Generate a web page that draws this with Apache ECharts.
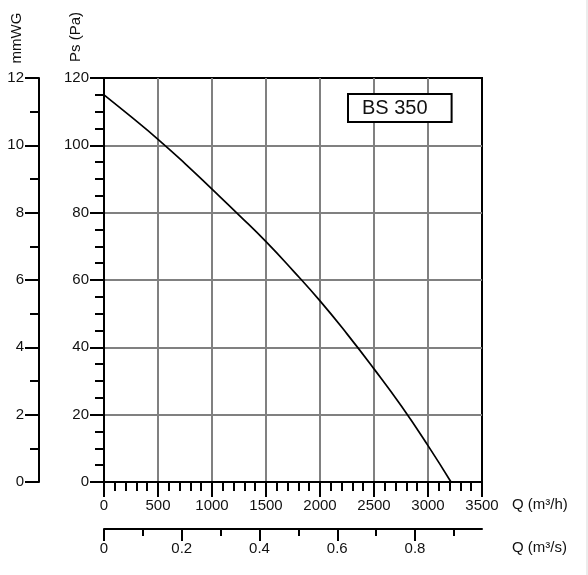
<!DOCTYPE html>
<html>
<head>
<meta charset="utf-8">
<script src="https://cdn.jsdelivr.net/npm/echarts@6/dist/echarts.min.js"></script>
<style>
html,body{margin:0;padding:0;background:#fff;}
#chart{width:588px;height:575px;}
</style>
</head>
<body>
<div id="chart"></div>
<script>
// ---- data ----
const seriesName = 'BS 350';
const flowM3h = [0, 250, 500, 750, 1000, 1250, 1500, 1750, 2000, 2250, 2500, 2750, 3000, 3213];
const pressurePa = [115, 108.5, 101.8, 94.6, 87, 79.3, 71.4, 62.8, 53.8, 44, 33.6, 22.7, 10.8, 0];
const qM3sMajor = [0, 0.2, 0.4, 0.6, 0.8];
const qM3sMinor = [0.1, 0.3, 0.5, 0.7, 0.9];
const qM3sLabels = ['0', '0.2', '0.4', '0.6', '0.8'];
const qM3hMax = 3500;
const psMax = 120;
const mmWGMax = 12;

const FONT = '"Liberation Sans", Arial, sans-serif';
const black = '#000';
const labelStyle = {fontSize: 15, color: '#111', fontFamily: FONT, formatter: function (v) { return String(v); }};

const chart = echarts.init(document.getElementById('chart'), null, {renderer: 'canvas'});

const option = {
  backgroundColor: '#fff',
  animation: false,
  grid: {left: 104, top: 78, width: 378, height: 404, show: true, borderColor: black, borderWidth: 2, backgroundColor: 'transparent', containLabel: false},
  legend: {
    data: [{name: seriesName, icon: 'none'}],
    left: 348, top: 94, itemWidth: 0, itemHeight: 0, itemGap: 0,
    padding: [4, 24, 4, 9],
    borderColor: black, borderWidth: 2, backgroundColor: '#fff',
    selectedMode: false,
    textStyle: {fontSize: 20, color: '#111', fontFamily: FONT}
  },
  xAxis: [
    {
      type: 'value', position: 'bottom', min: 0, max: qM3hMax, interval: 500,
      axisLine: {show: true, onZero: false, lineStyle: {color: black, width: 2}},
      axisTick: {show: true, length: 15, lineStyle: {color: black, width: 2}},
      minorTick: {show: true, splitNumber: 5, length: 9, lineStyle: {color: black, width: 2}},
      axisLabel: Object.assign({}, labelStyle, {margin: 16}),
      splitLine: {show: true, showMinLine: false, showMaxLine: false, lineStyle: {color: '#808080', width: 2}}
    },
    {
      type: 'value', position: 'bottom', offset: 47, min: 0, max: qM3hMax / 3600,
      axisLine: {show: true, onZero: false, lineStyle: {color: black, width: 2}},
      axisTick: {show: true, length: 12, customValues: qM3sMajor, lineStyle: {color: black, width: 2}},
      axisLabel: Object.assign({}, labelStyle, {margin: 12, customValues: qM3sMajor,
        formatter: function (v) { const i = qM3sMajor.findIndex(m => Math.abs(m - v) < 1e-6); return i >= 0 ? qM3sLabels[i] : ''; }}),
      splitLine: {show: false}
    },
    {
      type: 'value', position: 'bottom', offset: 47, min: 0, max: qM3hMax / 3600,
      axisLine: {show: false, onZero: false},
      axisTick: {show: true, length: 7, customValues: qM3sMinor, lineStyle: {color: black, width: 2}},
      axisLabel: {show: false},
      splitLine: {show: false}
    }
  ],
  yAxis: [
    {
      type: 'value', position: 'left', min: 0, max: psMax, interval: 20,
      axisLine: {show: true, onZero: false, lineStyle: {color: black, width: 2}},
      axisTick: {show: true, length: 14, lineStyle: {color: black, width: 2}},
      minorTick: {show: true, splitNumber: 4, length: 9, lineStyle: {color: black, width: 2}},
      axisLabel: Object.assign({}, labelStyle, {margin: 15}),
      splitLine: {show: true, showMinLine: false, showMaxLine: false, lineStyle: {color: '#808080', width: 2}}
    },
    {
      type: 'value', position: 'left', offset: 65, min: 0, max: mmWGMax, interval: 2,
      axisLine: {show: true, onZero: false, lineStyle: {color: black, width: 2}},
      axisTick: {show: true, length: 14, lineStyle: {color: black, width: 2}},
      minorTick: {show: true, splitNumber: 2, length: 9, lineStyle: {color: black, width: 2}},
      axisLabel: Object.assign({}, labelStyle, {margin: 15}),
      splitLine: {show: false}
    }
  ],
  series: [
    {
      name: seriesName, type: 'line', xAxisIndex: 0, yAxisIndex: 0,
      data: flowM3h.map((q, i) => [q, pressurePa[i]]),
      symbol: 'none', smooth: 0.5,
      lineStyle: {color: black, width: 1.7},
      itemStyle: {color: black},
      z: 5
    }
  ],
  graphic: [
    {type: 'text', x: 17, y: 38, rotation: Math.PI / 2,
      style: {text: 'mmWG', fontSize: 15, fontFamily: FONT, fill: '#111', align: 'center', verticalAlign: 'middle'}},
    {type: 'text', x: 76, y: 37, rotation: Math.PI / 2,
      style: {text: 'Ps (Pa)', fontSize: 15, fontFamily: FONT, fill: '#111', align: 'center', verticalAlign: 'middle'}},
    {type: 'text', x: 512, y: 505,
      style: {text: 'Q (m³/h)', fontSize: 15, fontFamily: FONT, fill: '#111', align: 'left', verticalAlign: 'middle'}},
    {type: 'text', x: 512, y: 548,
      style: {text: 'Q (m³/s)', fontSize: 15, fontFamily: FONT, fill: '#111', align: 'left', verticalAlign: 'middle'}},
    {type: 'rect', shape: {x: 586, y: 0, width: 2, height: 575}, style: {fill: '#ececec'}}
  ]
};
chart.setOption(option);
</script>
</body>
</html>
